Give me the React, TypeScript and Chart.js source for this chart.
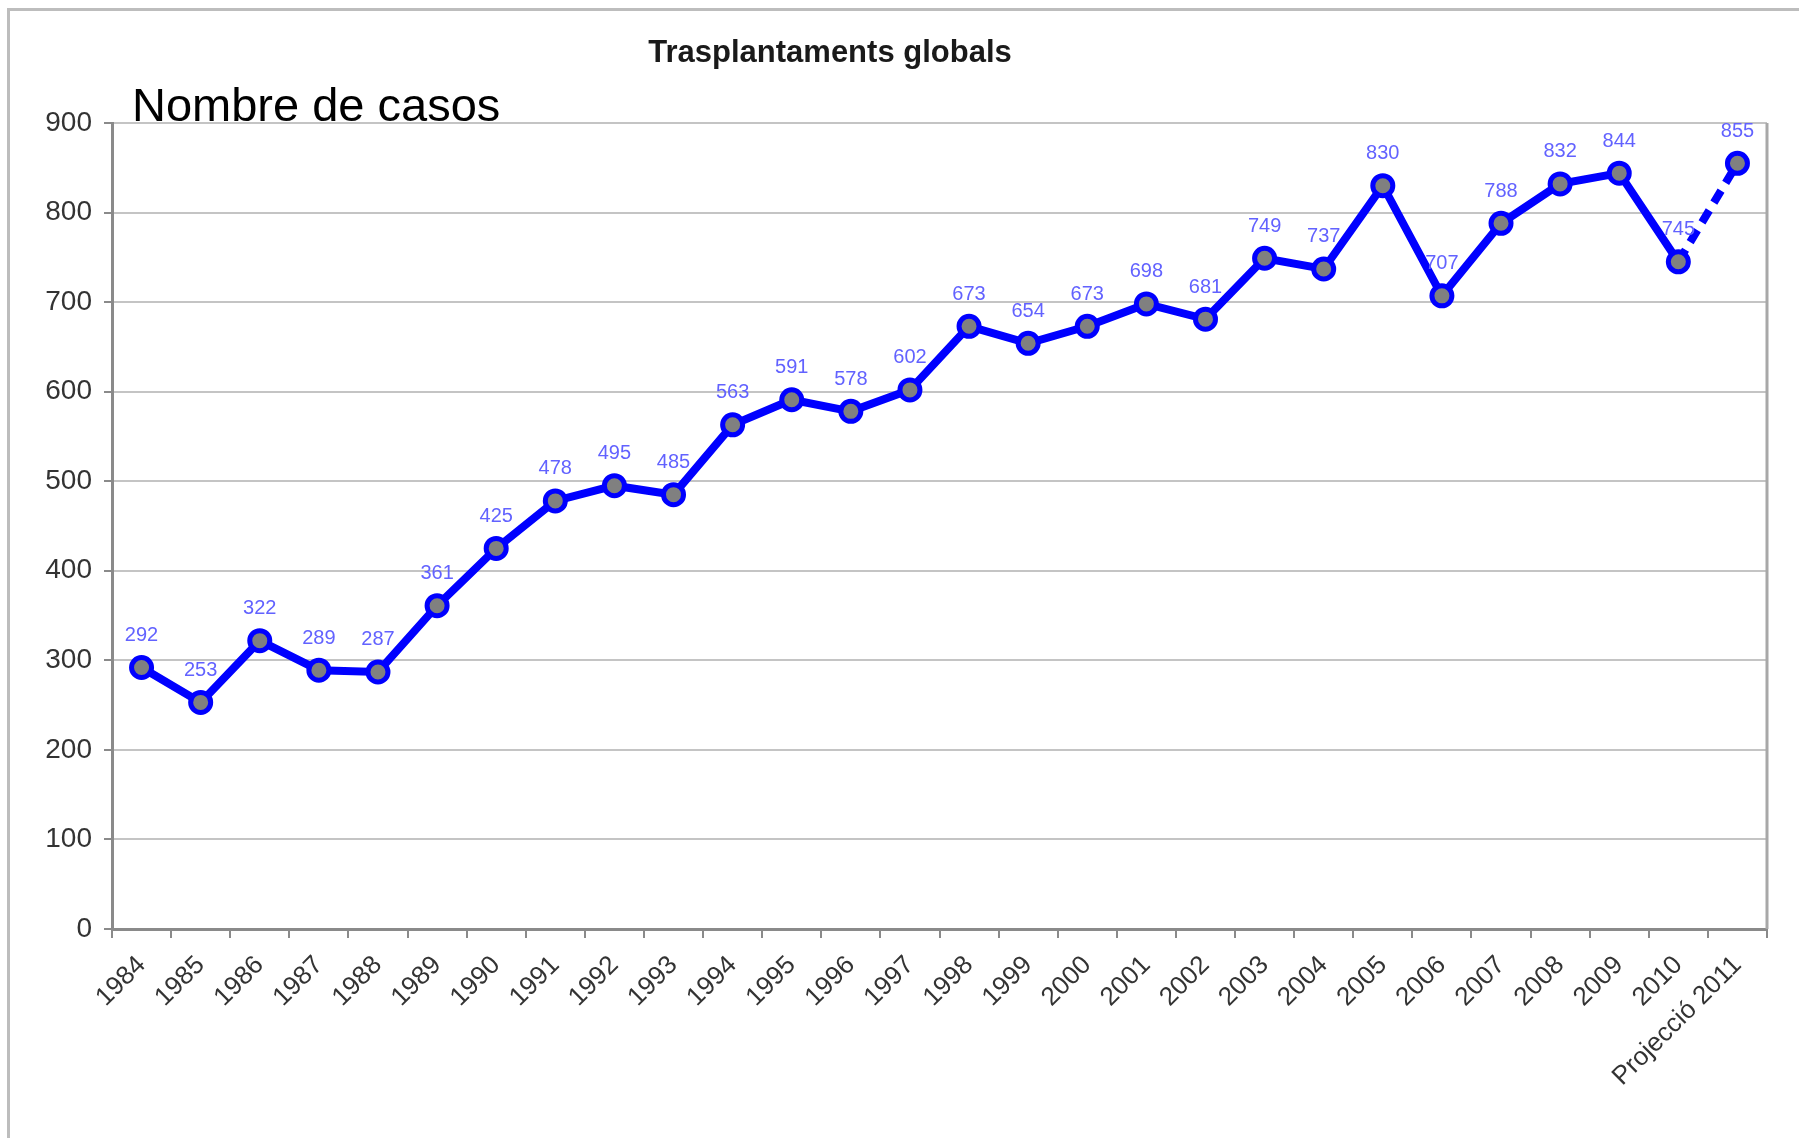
import React, { useEffect, useRef } from "react";
import { Chart, registerables } from "chart.js";

Chart.register(...registerables);

const categories: string[] = [
  "1984", "1985", "1986", "1987", "1988", "1989", "1990", "1991", "1992", "1993",
  "1994", "1995", "1996", "1997", "1998", "1999", "2000", "2001", "2002", "2003",
  "2004", "2005", "2006", "2007", "2008", "2009", "2010", "Projecció 2011",
];

const values: number[] = [
  292, 253, 322, 289, 287, 361, 425, 478, 495, 485,
  563, 591, 578, 602, 673, 654, 673, 698, 681, 749,
  737, 830, 707, 788, 832, 844, 745, 855,
];

const chartTitle = "Trasplantaments globals";
const axisTitle = "Nombre de casos";

const W = 1799;
const H = 1138;

const decorPlugin = {
  id: "decor",
  beforeDraw(chart: any) {
    const ctx = chart.ctx;
    ctx.save();
    ctx.fillStyle = "#ffffff";
    ctx.fillRect(0, 0, chart.width, chart.height);
    ctx.strokeStyle = "#bdbdbd";
    ctx.lineWidth = 3;
    ctx.strokeRect(8.5, 9.5, chart.width + 20, chart.height + 20);
    ctx.restore();
  },
  afterDatasetsDraw(chart: any) {
    const ctx = chart.ctx;
    const area = chart.chartArea;
    ctx.save();
    ctx.strokeStyle = "#a8a8a8";
    ctx.lineWidth = 3;
    ctx.beginPath();
    ctx.moveTo(area.right, area.top);
    ctx.lineTo(area.right, area.bottom);
    ctx.stroke();

    const meta = chart.getDatasetMeta(0);
    ctx.fillStyle = "#6262ff";
    ctx.font = "20px 'Liberation Sans', Arial, sans-serif";
    ctx.textAlign = "center";
    ctx.textBaseline = "middle";
    meta.data.forEach((pt: any, i: number) => {
      ctx.fillText(String(values[i]), pt.x, pt.y - 32);
    });

    ctx.fillStyle = "#1a1a1a";
    ctx.font = "bold 31px 'Liberation Sans', Arial, sans-serif";
    ctx.textAlign = "center";
    ctx.textBaseline = "alphabetic";
    ctx.fillText(chartTitle, 830, 62);
    ctx.fillStyle = "#000000";
    ctx.font = "47px 'Liberation Sans', Arial, sans-serif";
    ctx.textAlign = "left";
    ctx.fillText(axisTitle, 132, 121);
    ctx.restore();
  },
};

export default function App() {
  const ref = useRef<HTMLCanvasElement | null>(null);

  useEffect(() => {
    document.body.style.margin = "0";
    const canvas = ref.current;
    if (!canvas) return;
    const chart = new Chart(canvas, {
      type: "line",
      data: {
        labels: categories,
        datasets: [
          {
            data: values,
            borderColor: "#0000ff",
            borderWidth: 8,
            pointRadius: 10,
            pointHoverRadius: 10,
            pointBorderWidth: 5,
            pointBackgroundColor: "#808080",
            pointBorderColor: "#0000ff",
            tension: 0,
            fill: false,
            segment: {
              borderDash: (c: any) => (c.p0DataIndex === values.length - 2 ? [14, 9] : undefined),
            },
          },
        ],
      },
      options: {
        responsive: false,
        animation: false,
        layout: { padding: { top: 123, right: 32, left: 0, bottom: 0 } },
        plugins: {
          legend: { display: false },
          title: { display: false },
          tooltip: { enabled: false },
        },
        scales: {
          x: {
            offset: true,
            grid: {
              offset: true,
              drawOnChartArea: false,
              drawTicks: true,
              tickLength: 9,
              color: "#8a8a8a",
              lineWidth: 2,
            },
            border: { color: "#8a8a8a", width: 3 },
            ticks: {
              autoSkip: false,
              maxRotation: 45,
              minRotation: 45,
              padding: 12,
              color: "#333333",
              font: { family: "'Liberation Sans', Arial, sans-serif", size: 26 },
            },
            afterFit(scale: any) {
              scale.height = H - 929;
            },
          },
          y: {
            min: 0,
            max: 900,
            ticks: {
              stepSize: 100,
              padding: 12,
              color: "#333333",
              font: { family: "'Liberation Sans', Arial, sans-serif", size: 28 },
            },
            grid: {
              color: "#c4c4c4",
              lineWidth: 2,
              tickLength: 8,
              tickColor: "#8a8a8a",
            },
            border: { color: "#8a8a8a", width: 3 },
            afterFit(scale: any) {
              scale.width = 112;
            },
          },
        },
      },
      plugins: [decorPlugin],
    });
    return () => chart.destroy();
  }, []);

  return (
    <div style={{ width: W, height: H }}>
      <canvas ref={ref} width={W} height={H} style={{ display: "block", width: W, height: H }} />
    </div>
  );
}
